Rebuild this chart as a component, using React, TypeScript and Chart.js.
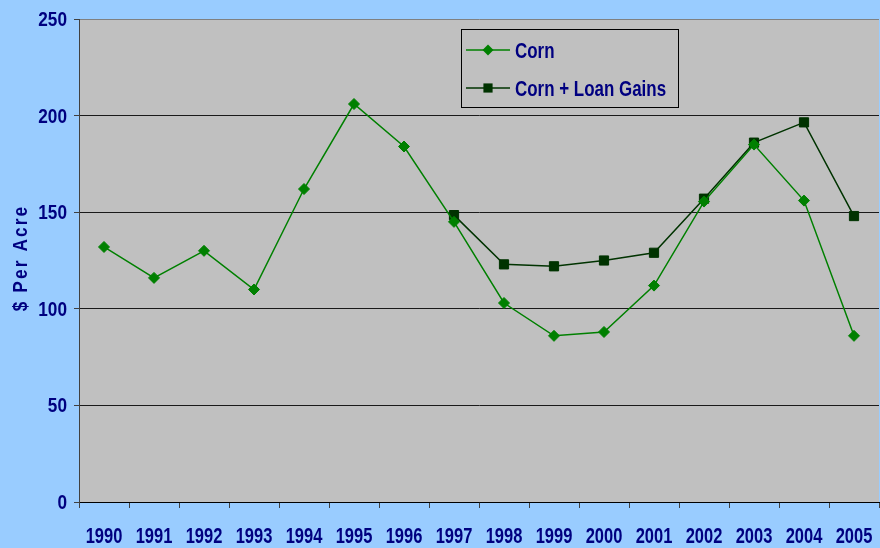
import React, { useEffect, useRef } from 'react';
import { Chart, registerables } from 'chart.js';

Chart.register(...registerables);

const years = ['1990', '1991', '1992', '1993', '1994', '1995', '1996', '1997', '1998', '1999', '2000', '2001', '2002', '2003', '2004', '2005'];
const cornValues = [132, 116, 130, 110, 162, 206, 184, 145, 103, 86, 88, 112, 155.5, 185, 156, 86];
const loanGainsValues = [null, null, null, null, null, null, null, 148.5, 123, 122, 125, 129, 157, 186, 196.5, 148];
const seriesLabels = ['Corn', 'Corn + Loan Gains'];
const yAxisTitle = '$ Per Acre';
const yMin = 0;
const yMax = 250;
const yStep = 50;

const FONT = '"Liberation Sans", Arial, sans-serif';
const NAVY = '#000080';

function narrowText(ctx: CanvasRenderingContext2D, text: string, x: number, y: number, align: CanvasTextAlign, size: number, sx: number) {
  ctx.save();
  ctx.translate(x, y);
  ctx.scale(sx, 1);
  ctx.font = `bold ${size}px ${FONT}`;
  ctx.fillStyle = NAVY;
  ctx.textAlign = align;
  ctx.textBaseline = 'alphabetic';
  ctx.fillText(text, 0, 0);
  ctx.restore();
}

export default function App() {
  const ref = useRef<HTMLCanvasElement | null>(null);

  useEffect(() => {
    document.body.style.margin = '0';
    const canvas = ref.current;
    if (!canvas) return;

    const bgPlugin = {
      id: 'bgPlugin',
      beforeDraw(chart: any) {
        const { ctx, chartArea } = chart;
        ctx.save();
        ctx.fillStyle = '#99CCFF';
        ctx.fillRect(0, 0, chart.width, chart.height);
        ctx.fillStyle = '#C0C0C0';
        ctx.fillRect(chartArea.left, chartArea.top, chartArea.right - chartArea.left, chartArea.bottom - chartArea.top);
        ctx.restore();
      },
    };

    const labelsPlugin = {
      id: 'narrowLabels',
      afterDraw(chart: any) {
        const { ctx, chartArea } = chart;
        const xs = chart.scales.x;
        const ys = chart.scales.y;
        xs.ticks.forEach((t: any, i: number) => {
          const label = chart.data.labels[t.value ?? i];
          narrowText(ctx, String(label), xs.getPixelForTick(i), chartArea.bottom + 40.5, 'center', 22, 0.75);
        });
        ys.ticks.forEach((t: any) => {
          narrowText(ctx, String(t.value), 67, ys.getPixelForValue(t.value) + 7, 'right', 20, 0.86);
        });
        ctx.save();
        ctx.translate(27, 258);
        ctx.rotate(-Math.PI / 2);
        ctx.scale(0.86, 1);
        ctx.fillStyle = NAVY;
        ctx.font = `bold 20px ${FONT}`;
        ctx.textAlign = 'center';
        ctx.textBaseline = 'alphabetic';
        try { (ctx as any).letterSpacing = '2.5px'; } catch (e) {}
        ctx.fillText(yAxisTitle, 0, 0);
        ctx.restore();
      },
    };

    const legendPlugin = {
      id: 'boxLegend',
      afterDraw(chart: any) {
        const { ctx } = chart;
        const x0 = 461, y0 = 29.5, w = 217, h = 78;
        ctx.save();
        ctx.fillStyle = '#C0C0C0';
        ctx.fillRect(x0, y0, w, h);
        ctx.strokeStyle = '#000000';
        ctx.lineWidth = 1;
        ctx.strokeRect(x0 + 0.5, y0, w, h);
        const rows = [50, 88];
        chart.data.datasets.forEach((ds: any, i: number) => {
          const cy = rows[i];
          ctx.strokeStyle = ds.borderColor;
          ctx.lineWidth = ds.borderWidth;
          ctx.beginPath();
          ctx.moveTo(466, cy);
          ctx.lineTo(510, cy);
          ctx.stroke();
          ctx.fillStyle = ds.pointBackgroundColor;
          ctx.beginPath();
          if (ds.pointStyle === 'rectRot') {
            const r = ds.pointRadius;
            ctx.moveTo(488, cy - r);
            ctx.lineTo(488 + r, cy);
            ctx.lineTo(488, cy + r);
            ctx.lineTo(488 - r, cy);
            ctx.closePath();
          } else {
            const s = ds.pointRadius * Math.SQRT1_2;
            ctx.rect(488 - s, cy - s, 2 * s, 2 * s);
          }
          ctx.fill();
          narrowText(ctx, ds.label, 515, cy + 7.5, 'left', 22, 0.77);
        });
        ctx.restore();
      },
    };

    const chart = new Chart(canvas, {
      type: 'line',
      data: {
        labels: years,
        datasets: [
          {
            label: seriesLabels[0],
            data: cornValues,
            borderColor: '#008000',
            backgroundColor: '#008000',
            pointBackgroundColor: '#008000',
            pointBorderColor: '#008000',
            pointStyle: 'rectRot',
            pointRadius: 5.5,
            pointBorderWidth: 1,
            borderWidth: 1.5,
            tension: 0,
          },
          {
            label: seriesLabels[1],
            data: loanGainsValues,
            borderColor: '#003300',
            backgroundColor: '#003300',
            pointBackgroundColor: '#003300',
            pointBorderColor: '#003300',
            pointStyle: 'rect',
            pointRadius: 6.5,
            pointBorderWidth: 1,
            borderWidth: 1.5,
            tension: 0,
          },
        ],
      },
      options: {
        responsive: false,
        animation: false,
        layout: { autoPadding: false, padding: { top: 19, right: 1, left: 0, bottom: 0 } },
        plugins: {
          legend: { display: false },
          tooltip: { enabled: false },
        },
        scales: {
          x: {
            type: 'category',
            offset: true,
            grid: {
              display: true,
              drawOnChartArea: false,
              drawTicks: true,
              tickLength: 6,
              color: '#404040',
              offset: true,
            },
            border: { display: true, color: '#000000', width: 1 },
            ticks: { display: false, autoSkip: false },
            afterFit: (s: any) => { s.height = 46; },
          },
          y: {
            min: yMin,
            max: yMax,
            ticks: { display: false, stepSize: yStep },
            grid: {
              color: (c: any) => (c.tick && c.tick.value === yMax ? '#808080' : '#1a1a1a'),
              tickColor: '#404040',
              tickLength: 5,
              drawTicks: true,
            },
            border: { display: true, color: '#404040', width: 1 },
            afterFit: (s: any) => { s.width = 79; },
          },
        },
      },
      plugins: [bgPlugin, labelsPlugin, legendPlugin],
    } as any);

    return () => chart.destroy();
  }, []);

  return <canvas ref={ref} width={880} height={548} style={{ display: 'block' }} />;
}
